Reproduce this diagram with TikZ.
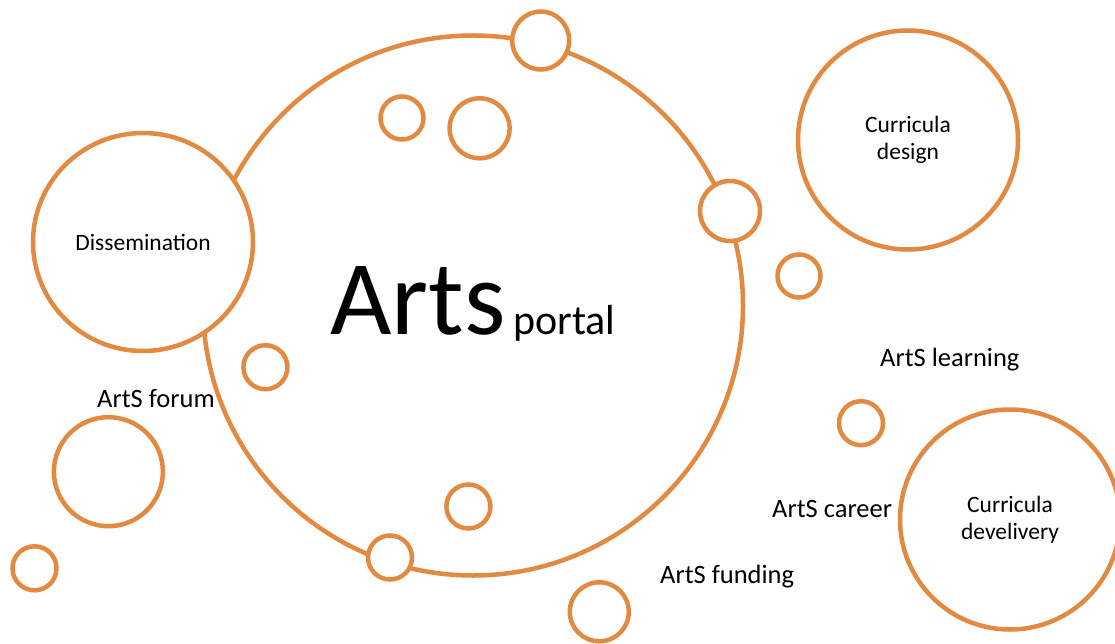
\documentclass[tikz,border=0pt]{standalone}
\usepackage{fontspec}
\setmainfont{Carlito}
\usetikzlibrary{shapes.geometric}
\definecolor{orng}{RGB}{226,138,65}
\begin{document}
\begin{tikzpicture}[x=1pt,y=-1pt,
  bub/.style={ellipse, draw=orng, line width=4.5pt, fill=white, inner sep=0pt,
    align=center, font=\fontsize{23.5}{26.5}\selectfont},
  lab/.style={font=\fontsize{26.5}{30}\selectfont, inner sep=0pt, anchor=base west}]
\useasboundingbox[fill=white] (0,0) rectangle (1115,644);
% main portal circle
\node[bub, minimum width=540pt, minimum height=540pt] (portal) at (473,305.5) {};
% bubbles
\node[bub, minimum width=57pt, minimum height=58pt] (top) at (540.7,40.5) {};
\node[bub, minimum width=43pt, minimum height=43pt] (ina) at (402,118) {};
\node[bub, minimum width=60pt, minimum height=60pt] (inb) at (479.6,128.3) {};
\node[bub, minimum width=220pt, minimum height=218pt] (diss) at (143,242) {Dissemination};
\node[bub, minimum width=60pt, minimum height=60pt] (right) at (730,211) {};
\node[bub, minimum width=220pt, minimum height=219pt] (design) at (908,140) {Curricula\\design};
\node[bub, minimum width=43pt, minimum height=43pt] (sm) at (799,276) {};
\node[bub, minimum width=44pt, minimum height=44pt] (inl) at (265.4,367.2) {};
\node[bub, minimum width=109pt, minimum height=109pt] (forumc) at (108.4,471.7) {};
\node[bub, minimum width=44pt, minimum height=44pt] (bl) at (34.5,568.3) {};
\node[bub, minimum width=44pt, minimum height=44pt] (inbot) at (468.4,506.5) {};
\node[bub, minimum width=44pt, minimum height=44pt] (onbot) at (390,557.5) {};
\node[bub, minimum width=44pt, minimum height=44pt] (learnc) at (861,423.2) {};
\node[bub, minimum width=220pt, minimum height=220pt] (deliv) at (1010,519.5) {Curricula\\develivery};
\node[bub, minimum width=59pt, minimum height=59pt] (fundc) at (599.3,611.8) {};
% texts
\node[inner sep=0pt, anchor=base west, font=\fontsize{106}{112}\selectfont] (arts) at (330,334) {Arts};
\node[inner sep=0pt, anchor=base west, font=\fontsize{42}{46}\selectfont] (portaltxt) at (513,334) {portal};
\node[lab] (forum) at (97,407.3) {ArtS forum};
\node[lab] (learning) at (880,366.7) {ArtS learning};
\node[lab] (career) at (772,517.3) {ArtS career};
\node[lab] (funding) at (660,583.3) {ArtS funding};
\end{tikzpicture}
\end{document}
